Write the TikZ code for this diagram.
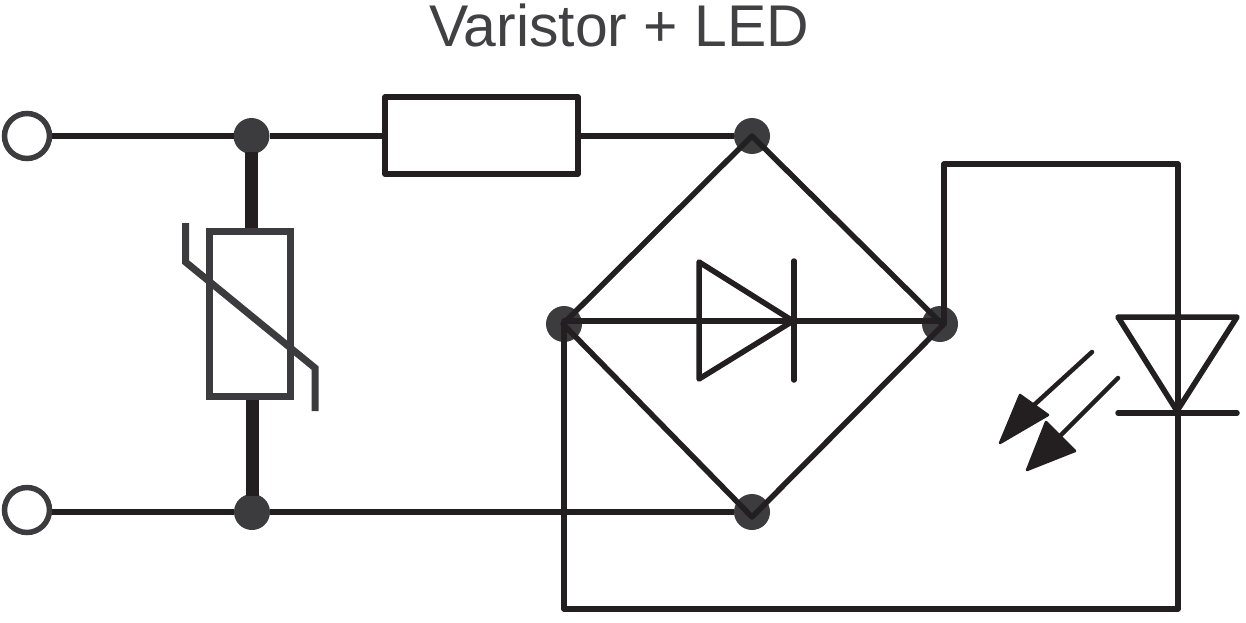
\documentclass[tikz,border=0pt]{standalone}
\usepackage{fontspec}
\setmainfont{Liberation Sans}
\definecolor{wirecol}{HTML}{231F20}
\definecolor{darkcol}{HTML}{3C3C3E}
\definecolor{titlecol}{HTML}{414042}
\tikzset{
  wire/.style={draw=wirecol, line width=1.1mm, line cap=round, line join=round},
  leadwire/.style={draw=wirecol, line width=2.6mm},
  junction/.style={circle, fill=darkcol, minimum size=7.2mm, inner sep=0pt, outer sep=0pt},
  terminal/.style={circle, draw=darkcol, fill=white, line width=1.1mm, minimum size=9mm, inner sep=0pt},
  varistorbox/.style={rectangle, draw=darkcol, line width=1.4mm, minimum width=16.2mm, minimum height=33mm, inner sep=0pt},
  resistorbox/.style={rectangle, draw=wirecol, line width=1.1mm, line join=round, minimum width=38.6mm, minimum height=15.4mm, inner sep=0pt},
}
\newcommand\defcoordinates{%
  \coordinate (vtop) at (185.5,223);
  \coordinate (vbenda) at (185.5,262);
  \coordinate (vbendb) at (315,368);
  \coordinate (vbot) at (315,411);
  \coordinate (dl) at (564,321);
  \coordinate (dr) at (941,321);
  \coordinate (cornert) at (752,136);
  \coordinate (cornerr) at (943,325);
  \coordinate (cornerb) at (752,517);
  \coordinate (cornerl) at (563,324);
  \coordinate (ledtop) at (944,164);
  \coordinate (ledright) at (1178,164);
  \coordinate (ledbot) at (1178,609);
  \coordinate (ledleft) at (564,609);
  \coordinate (taila) at (1092,352);
  \coordinate (basea) at (1034,405);
  \coordinate (tailb) at (1118,378);
  \coordinate (baseb) at (1060,436);
}
\newcommand\plotarrow[5]{%
  \fill[wirecol, draw=wirecol, line width=0.5mm, line join=round] (#1) -- (#2) -- (#3) -- cycle;
  \draw[wire, line width=0.9mm] (#4) -- (#5);
}
\begin{document}
\begin{tikzpicture}[x=0.02cm, y=-0.02cm]
  \useasboundingbox (0,0) rectangle (1246,622);
  \defcoordinates

  % title
  \node[anchor=base, text=titlecol, font=\fontsize{33.5pt}{36pt}\selectfont] (title) at (619,46) {Varistor + LED};

  % left side
  \node[terminal] (intop) at (27,136) {};
  \node[terminal] (inbot) at (27,510) {};
  \node[junction] (jtl) at (251.5,136) {};
  \node[junction] (jbl) at (252,512) {};
  \node[varistorbox] (vbox) at (250,314) {};
  \node[resistorbox] (rbox) at (481.5,135.5) {};
  \node[junction] (jtop) at (752,136) {};
  \node[junction] (jbot) at (752,512) {};
  \node[junction] (jleft) at (564,324) {};
  \node[junction] (jright) at (940,324) {};

  \draw[wire, line cap=butt] (intop) -- (jtl);
  \draw[wire, line cap=butt] (jtl) -- (rbox.west |- jtl);
  \draw[wire, line cap=butt] (inbot.east |- jbl) -- (jbl);
  \draw[wire, line cap=butt] (jbl) -- (jbot);
  \draw[wire, line cap=butt] (rbox.east |- jtop) -- (jtop);
  \draw[leadwire, shorten <=-0.4mm] (jtl) -- (jtl |- vbox.north);
  \draw[leadwire, shorten >=-0.4mm] (jbl |- vbox.south) -- (jbl);
  \draw[draw=darkcol, line width=1.4mm] (vtop) -- (vbenda) -- (vbendb) -- (vbot);

  % bridge
  \draw[wire] (cornert) -- (cornerr) -- (cornerb) -- (cornerl) -- cycle;
  \draw[wire] (dl) -- (dr);
  \draw[wire] (699,262) -- (793,321) -- (699,379) -- cycle;
  \draw[wire] (794,261) -- (794,380);

  % led loop
  \draw[wire] (ledtop |- jright) -- (ledtop) -- (ledright) -- (ledbot) -- (ledleft) -- (jleft.center);
  \draw[wire] (1118,317) -- (1237,317) -- (1177,411) -- cycle;
  \draw[wire] (1118,413) -- (1237,413);

  % light arrows
  \plotarrow{1000,443}{1020,395}{1048,415}{taila}{basea}
  \plotarrow{1027,470}{1046,422}{1075,451}{tailb}{baseb}
\end{tikzpicture}
\end{document}
